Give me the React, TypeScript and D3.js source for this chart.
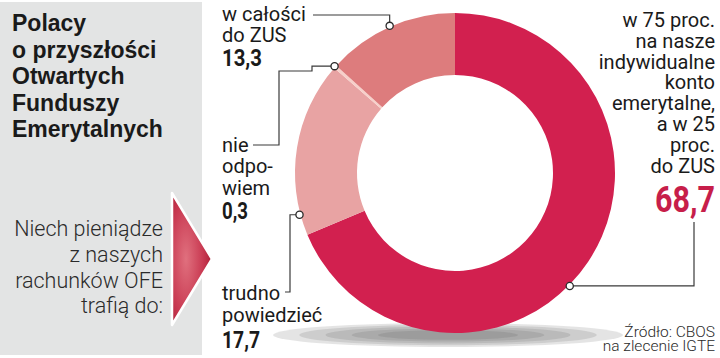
import React from "react";
import * as d3 from "d3";

const categories = [
  "w 75 proc. na nasze indywidualne konto emerytalne, a w 25 proc. do ZUS",
  "trudno powiedzieć",
  "nie odpowiem",
  "w całości do ZUS",
];
const values = [68.7, 17.7, 0.3, 13.3];
const valueLabels = ["68,7", "17,7", "0,3", "13,3"];
const colors = ["#D2204F", "#E8A3A3", "#F7D0CA", "#DD7C7D"];
// where along each slice the leader dot sits (0 = start, 1 = end)
const dotPos = [0.544, 0.12, 0.5, 0.5];

const titleLines = ["Polacy", "o przyszłości", "Otwartych", "Funduszy", "Emerytalnych"];
const captionLines = ["Niech pieniądze", "z naszych", "rachunków OFE", "trafią do:"];
const bigLabelLines = ["w 75 proc.", "na nasze", "indywidualne", "konto", "emerytalne,", "a w 25", "proc.", "do ZUS"];
const sourceLines = ["Źródło: CBOS", "na zlecenie IGTE"];

const W = 720;
const H = 358;
const cx = 455;
const cy = 173;
const rOuter = 160;
const rInner = 98;
const shadowLayers = [1, 0.85, 0.7, 0.55, 0.4];

export default function App() {
  const pie = d3.pie<number>().sort(null).value((d) => d)(values);
  const arc = d3.arc<d3.PieArcDatum<number>>().innerRadius(rInner).outerRadius(rOuter);
  const dots = pie.map((p, i) => {
    const a = p.startAngle + (p.endAngle - p.startAngle) * dotPos[i];
    const r = rOuter + 1;
    return [cx + Math.sin(a) * r, cy - Math.cos(a) * r];
  });
  const line = d3.line();

  const labelFont = "Roboto, 'Noto Sans', sans-serif";
  const labelStyle = { fontFamily: labelFont, fontSize: 20, fill: "#1a1a1a" } as const;
  const numStyle = { fontFamily: labelFont, fontSize: 24, fontWeight: 700, fill: "#1a1a1a" } as const;

  const d0 = dots[0], d1 = dots[1], d2 = dots[2], d3p = dots[3];

  return (
    <svg width={W} height={H} style={{ position: "absolute", left: 0, top: 0, display: "block", background: "#fff" }}>
      <defs>
        <radialGradient id="arrowGrad" cx="0.35" cy="0.5" r="0.7">
          <stop offset="0" stopColor="#E0707E" />
          <stop offset="0.6" stopColor="#C93A52" />
          <stop offset="1" stopColor="#A81A32" />
        </radialGradient>
      </defs>

      {/* left panel */}
      <rect x={0} y={2} width={202} height={353} fill="#E3E4E4" />
      {titleLines.map((t, i) => (
        <text key={t} x={12} y={31 + i * 26.5} style={{ fontFamily: "'Liberation Sans', Arial, sans-serif", fontSize: 23, fontWeight: 700, fill: "#1a1a1a" }}>
          {t}
        </text>
      ))}
      {captionLines.map((t, i) => (
        <text key={t} x={163} y={236 + i * 25.8} textAnchor="end" style={{ fontFamily: labelFont, fontSize: 21.5, fontWeight: 300, fill: "#2a2a2a" }}>
          {t}
        </text>
      ))}
      <polygon points="172,193 212,259 172,325" fill="url(#arrowGrad)" stroke="#fff" strokeWidth={2.5} strokeLinejoin="round" />

      {/* shadow */}
      {shadowLayers.map((s, i) => (
        <ellipse key={i} cx={448} cy={335} rx={175 * s} ry={12 * s} fill="#5a5a5a" opacity={0.16} />
      ))}

      {/* donut */}
      <g transform={`translate(${cx},${cy})`}>
        {pie.map((p, i) => (
          <path key={i} d={arc(p) || ""} fill={colors[i]} />
        ))}
      </g>

      {/* leaders */}
      <g fill="none" stroke="#3a3a3a" strokeWidth={1.2}>
        <path d={line([[313, 15], [d3p[0], 15], [d3p[0], d3p[1]]]) || ""} />
        <path d={line([[253, 145], [279, 145], [279, 71], [312, 71], [312, d2[1]], [d2[0], d2[1]]]) || ""} />
        <path d={line([[285, 292], [290, 292], [290, d1[1]], [d1[0], d1[1]]]) || ""} />
        <path d={line([[694, 222], [694, d0[1]], [d0[0], d0[1]]]) || ""} />
      </g>
      {dots.map((d, i) => (
        <circle key={i} cx={d[0]} cy={d[1]} r={3.6} fill="#fff" stroke="#2a2a2a" strokeWidth={1.3} />
      ))}

      {/* w całości */}
      <text x={222} y={21} style={labelStyle}>w całości</text>
      <text x={222} y={42} style={labelStyle}>do ZUS</text>
      <text x={222} y={66} style={numStyle} textLength={40} lengthAdjust="spacingAndGlyphs">{valueLabels[3]}</text>

      {/* nie odpowiem */}
      <text x={222} y={152} style={labelStyle}>nie</text>
      <text x={222} y={173} style={labelStyle}>odpo-</text>
      <text x={222} y={195} style={labelStyle}>wiem</text>
      <text x={222} y={219} style={numStyle} textLength={26} lengthAdjust="spacingAndGlyphs">{valueLabels[2]}</text>

      {/* trudno powiedzieć */}
      <text x={222} y={300} style={labelStyle}>trudno</text>
      <text x={222} y={322} style={labelStyle}>powiedzieć</text>
      <text x={222} y={348} style={numStyle} textLength={38} lengthAdjust="spacingAndGlyphs">{valueLabels[1]}</text>

      {/* big slice */}
      {bigLabelLines.map((t, i) => (
        <text key={i} x={715} y={27 + i * 20.8} textAnchor="end" style={labelStyle}>
          {t}
        </text>
      ))}
      <text x={655} y={212} style={{ fontFamily: labelFont, fontSize: 37, fontWeight: 700, fill: "#C71E4A" }} textLength={60} lengthAdjust="spacingAndGlyphs">
        {valueLabels[0]}
      </text>

      {/* source */}
      {sourceLines.map((t, i) => (
        <text key={t} x={715} y={337 + i * 13.5} textAnchor="end" style={{ fontFamily: labelFont, fontSize: 15.5, fontWeight: 300, fill: "#2a2a2a" }}>
          {t}
        </text>
      ))}
    </svg>
  );
}
